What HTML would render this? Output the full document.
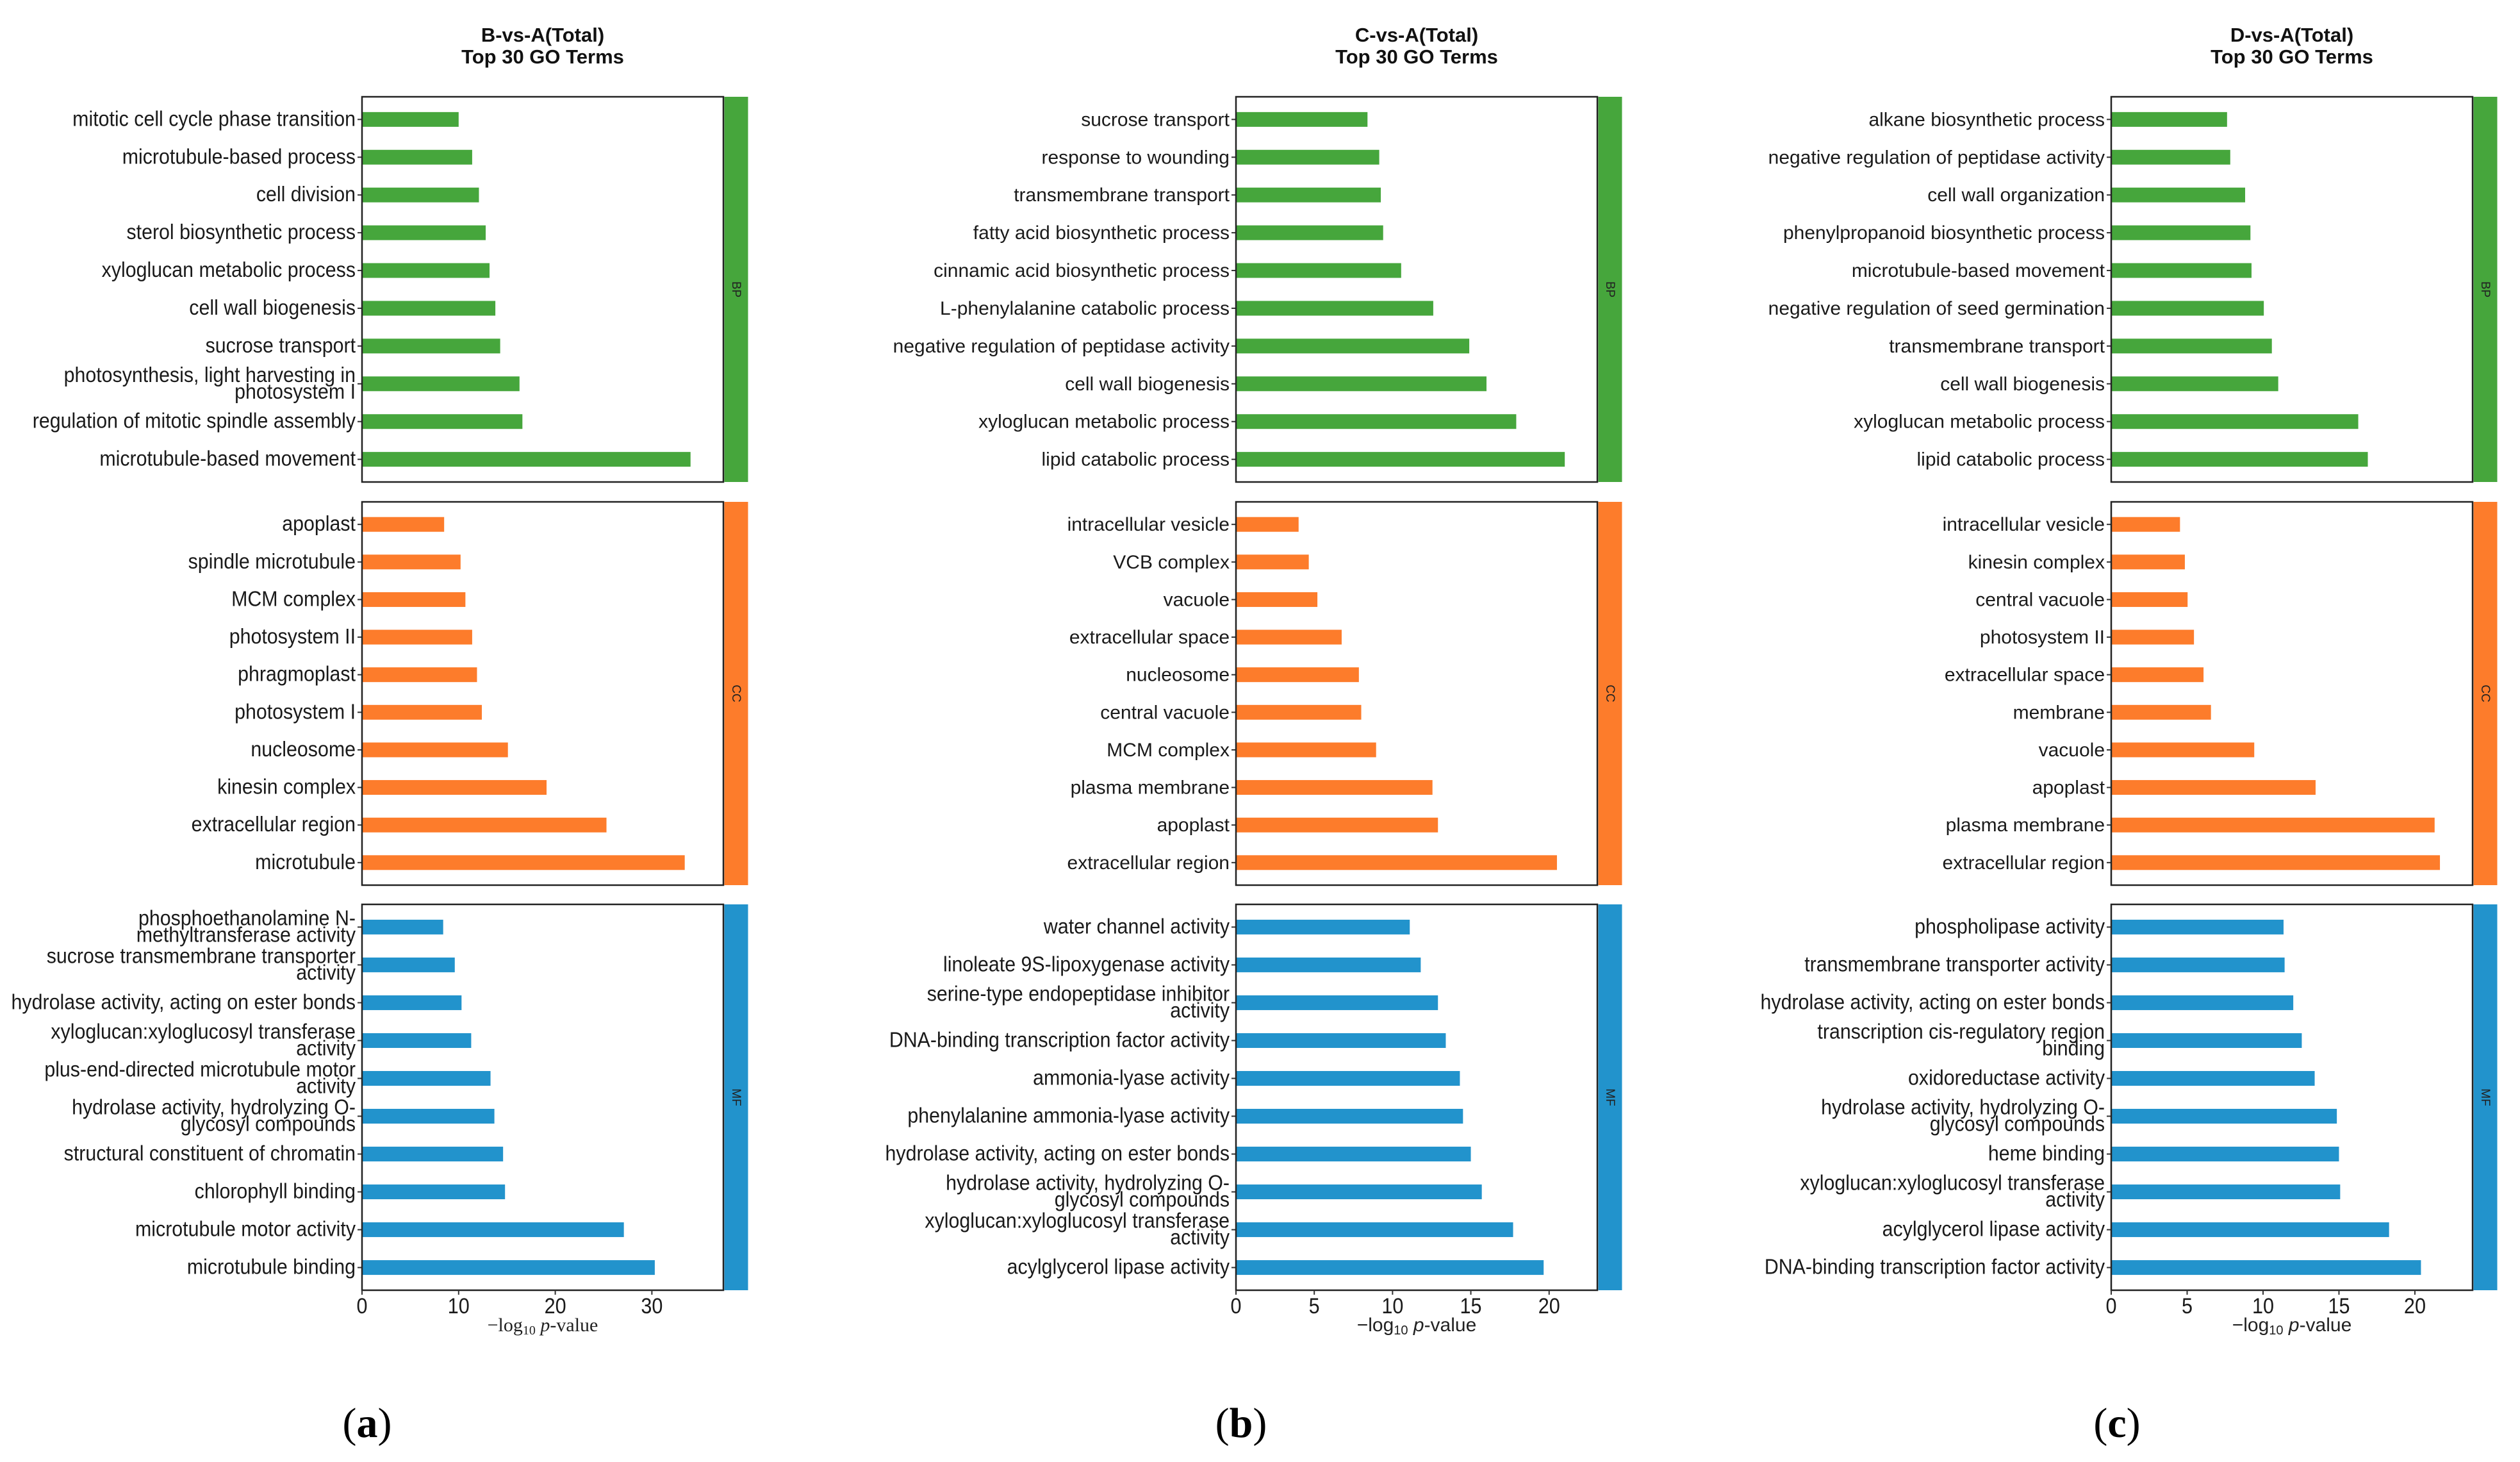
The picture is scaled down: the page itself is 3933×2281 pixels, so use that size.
<!DOCTYPE html>
<html><head><meta charset="utf-8"><style>
html,body{margin:0;padding:0;background:#fff;}
svg{display:block;font-family:"Liberation Sans",Arial,sans-serif;}
</style></head><body>
<svg id="fig" width="3933" height="2281" viewBox="0 0 3933 2281" xmlns="http://www.w3.org/2000/svg"></svg>
<script>
// ---- data ----
const titlesA = ["B-vs-A(Total)", "Top 30 GO Terms"];
const titlesB = ["C-vs-A(Total)", "Top 30 GO Terms"];
const titlesC = ["D-vs-A(Total)", "Top 30 GO Terms"];

const bpTermsA = ["mitotic cell cycle phase transition","microtubule-based process","cell division","sterol biosynthetic process","xyloglucan metabolic process","cell wall biogenesis","sucrose transport","photosynthesis, light harvesting in|photosystem I","regulation of mitotic spindle assembly","microtubule-based movement"];
const bpValsA = [10.0,11.4,12.1,12.8,13.2,13.8,14.3,16.3,16.6,34.0];
const ccTermsA = ["apoplast","spindle microtubule","MCM complex","photosystem II","phragmoplast","photosystem I","nucleosome","kinesin complex","extracellular region","microtubule"];
const ccValsA = [8.5,10.2,10.7,11.4,11.9,12.4,15.1,19.1,25.3,33.4];
const mfTermsA = ["phosphoethanolamine N-|methyltransferase activity","sucrose transmembrane transporter|activity","hydrolase activity, acting on ester bonds","xyloglucan:xyloglucosyl transferase|activity","plus-end-directed microtubule motor|activity","hydrolase activity, hydrolyzing O-|glycosyl compounds","structural constituent of chromatin","chlorophyll binding","microtubule motor activity","microtubule binding"];
const mfValsA = [8.4,9.6,10.3,11.3,13.3,13.7,14.6,14.8,27.1,30.3];
const ticksA = [0,10,20,30];

const bpTermsB = ["sucrose transport","response to wounding","transmembrane transport","fatty acid biosynthetic process","cinnamic acid biosynthetic process","L-phenylalanine catabolic process","negative regulation of peptidase activity","cell wall biogenesis","xyloglucan metabolic process","lipid catabolic process"];
const bpValsB = [8.4,9.15,9.25,9.4,10.55,12.6,14.9,16.0,17.9,21.0];
const ccTermsB = ["intracellular vesicle","VCB complex","vacuole","extracellular space","nucleosome","central vacuole","MCM complex","plasma membrane","apoplast","extracellular region"];
const ccValsB = [4.0,4.65,5.2,6.75,7.85,8.0,8.95,12.55,12.9,20.5];
const mfTermsB = ["water channel activity","linoleate 9S-lipoxygenase activity","serine-type endopeptidase inhibitor|activity","DNA-binding transcription factor activity","ammonia-lyase activity","phenylalanine ammonia-lyase activity","hydrolase activity, acting on ester bonds","hydrolase activity, hydrolyzing O-|glycosyl compounds","xyloglucan:xyloglucosyl transferase|activity","acylglycerol lipase activity"];
const mfValsB = [11.1,11.8,12.9,13.4,14.3,14.5,15.0,15.7,17.7,19.65];
const ticksB = [0,5,10,15,20];

const bpTermsC = ["alkane biosynthetic process","negative regulation of peptidase activity","cell wall organization","phenylpropanoid biosynthetic process","microtubule-based movement","negative regulation of seed germination","transmembrane transport","cell wall biogenesis","xyloglucan metabolic process","lipid catabolic process"];
const bpValsC = [7.63,7.84,8.82,9.17,9.24,10.05,10.58,11.0,16.27,16.9];
const ccTermsC = ["intracellular vesicle","kinesin complex","central vacuole","photosystem II","extracellular space","membrane","vacuole","apoplast","plasma membrane","extracellular region"];
const ccValsC = [4.53,4.85,5.03,5.45,6.08,6.57,9.42,13.46,21.3,21.65];
const mfTermsC = ["phospholipase activity","transmembrane transporter activity","hydrolase activity, acting on ester bonds","transcription cis-regulatory region|binding","oxidoreductase activity","hydrolase activity, hydrolyzing O-|glycosyl compounds","heme binding","xyloglucan:xyloglucosyl transferase|activity","acylglycerol lipase activity","DNA-binding transcription factor activity"];
const mfValsC = [11.35,11.42,11.99,12.55,13.4,14.86,15.0,15.08,18.3,20.4];
const ticksC = [0,5,10,15,20];

// ---- drawing ----
const NS = "http://www.w3.org/2000/svg";
const svg = document.getElementById("fig");
function mk(tag, attrs, parent){
  const e = document.createElementNS(NS, tag);
  for (const k in attrs) e.setAttribute(k, attrs[k]);
  (parent||svg).appendChild(e);
  return e;
}
const COLORS = {BP:"#46a63c", CC:"#fd7c2b", MF:"#2293cc"};
const ROWS = [[151,752],[783,1381],[1411,2013]];

function drawPanel(p){
  const g = mk("g", {});
  
  
  const xs = v => p.left + (v / p.max) * (p.right - p.left);
  p.titles.forEach((t,i)=>{
    const tt = mk("text", {x:(p.left+p.right)/2, y:65+i*34, "text-anchor":"middle", "font-size":31, "font-weight":"bold", fill:"#111"}, g);
    tt.textContent = t;
    
    
  });
  const groups = [["BP",p.bp,p.bpv],["CC",p.cc,p.ccv],["MF",p.mf,p.mfv]];
  groups.forEach((grp,gi)=>{
    const [cat, terms, vals] = grp;
    const top = ROWS[gi][0], bot = ROWS[gi][1];
    const n = terms.length;
    const step = (bot-top)/(n-1+1.2);
    const yc = i => top + 0.6*step + i*step;
    const condensed = (cat==="MF") || p.key==="a";
    terms.forEach((term,i)=>{
      const y = yc(i);
      const bar = mk("rect", {x:xs(0), y:y-11.5, width:xs(vals[i])-xs(0), height:23, fill:COLORS[cat]}, g);
      
      
      mk("line", {x1:p.left-7, x2:p.left, y1:y, y2:y, stroke:"#333", "stroke-width":2}, g);
      const lines = term.split("|");
      const lg = mk("g", {transform:"translate(" + (p.left-10) + "," + y + ")" + (condensed ? " scale(0.92,1)" : "")}, g);
      lines.forEach((ln,li)=>{
        const off = lines.length===1 ? 10 : (li===0 ? -3 : 23);
        const t = mk("text", {x:0, y:off, "text-anchor":"end", "font-size":condensed?33:30, fill:"#1a1a1a"}, lg);
        t.textContent = ln;
        
        
      });
    });
    const box = mk("rect", {x:p.left, y:top, width:p.right-p.left, height:bot-top, fill:"none", stroke:"#222", "stroke-width":2.5}, g);
    
    
    const strip = mk("rect", {x:p.right+1.5, y:top, width:37, height:bot-top, fill:COLORS[cat]}, g);
    
    
    const sx = p.right+20, sy=(top+bot)/2;
    const st = mk("text", {x:0, y:0, transform:"translate(" + (sx-6) + "," + sy + ") rotate(90)", "text-anchor":"middle", "font-size":19, fill:"#222"}, g);
    st.textContent = cat;
    
    
  });
  p.ticks.forEach(tv=>{
    const x = xs(tv);
    mk("line", {x1:x, x2:x, y1:2013, y2:2020, stroke:"#333", "stroke-width":2}, g);
    const tl = mk("text", {x:0, y:0, transform:"translate(" + x + ",2049) scale(0.9,1)", "text-anchor":"middle", "font-size":34, fill:"#1a1a1a"}, g);
    tl.textContent = tv;
    
    
  });
  const at = mk("text", {x:(p.left+p.right)/2, y:2077, "text-anchor":"middle", "font-size":30, fill:"#222", "font-family":p.key==="a"?"Liberation Serif, serif":"Liberation Sans, sans-serif"}, g);
  at.innerHTML = '\u2212log<tspan font-size="20" dy="5">10</tspan><tspan dy="-5" font-style="italic"> p</tspan>-value';
  
  
  const lab = mk("text", {x:p.labX, y:2242, "text-anchor":"middle", "font-size":66, "font-family":"Liberation Serif, serif", fill:"#000"}, g);
  lab.innerHTML = '(<tspan font-weight="bold">' + p.key + '</tspan>)';
  
  
}

drawPanel({key:"a", left:565, right:1129, max:37.4, titles:titlesA, bp:bpTermsA, bpv:bpValsA, cc:ccTermsA, ccv:ccValsA, mf:mfTermsA, mfv:mfValsA, ticks:ticksA, labX:573});
drawPanel({key:"b", left:1929, right:2493, max:23.08, titles:titlesB, bp:bpTermsB, bpv:bpValsB, cc:ccTermsB, ccv:ccValsB, mf:mfTermsB, mfv:mfValsB, ticks:ticksB, labX:1937});
drawPanel({key:"c", left:3295, right:3859, max:23.8, titles:titlesC, bp:bpTermsC, bpv:bpValsC, cc:ccTermsC, ccv:ccValsC, mf:mfTermsC, mfv:mfValsC, ticks:ticksC, labX:3304});
</script>
</body></html>
